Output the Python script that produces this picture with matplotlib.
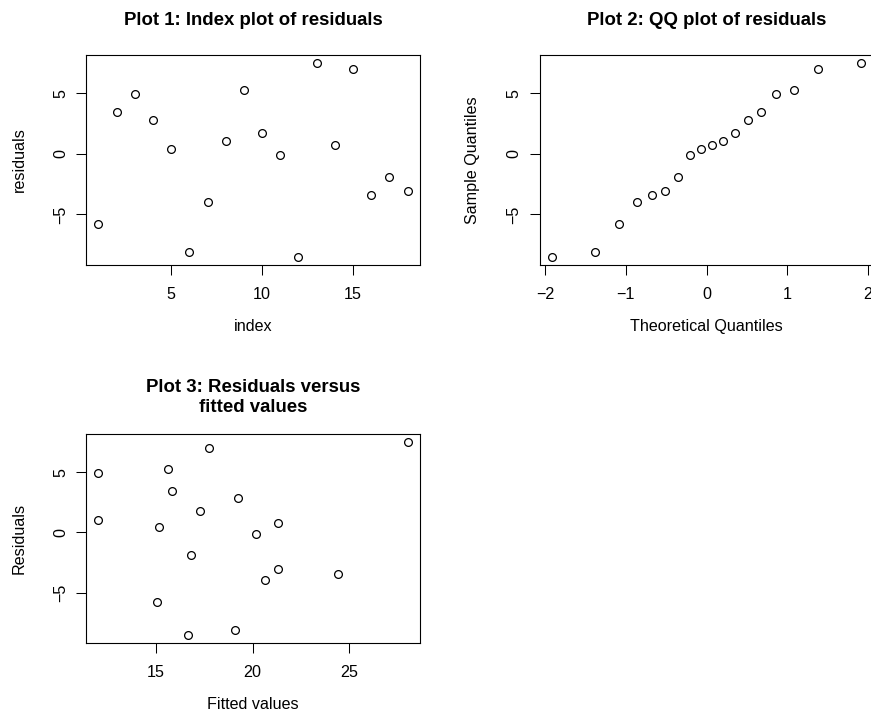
import matplotlib
matplotlib.use('Agg')
from matplotlib import pyplot as plt

plt.rcParams['font.family'] = ['Liberation Sans', 'DejaVu Sans']

# residuals, in index order
index = list(range(1, 19))
residuals = [-5.81, 3.44, 4.93, 2.81, 0.41, -8.13, -3.94, 1.02, 5.29,
             1.76, -0.11, -8.54, 7.52, 0.74, 6.97, -3.42, -1.90, -3.06]
fitted = [15.07, 15.85, 12.01, 19.26, 15.17, 19.08, 20.64, 12.01, 15.61,
          17.28, 20.19, 16.66, 28.03, 21.33, 17.72, 24.41, 16.80, 21.33]
# normal scores for 18 points, (i - 0.5)/n
theor_q = [-1.9145, -1.3830, -1.0853, -0.8616, -0.6745, -0.5085, -0.3550,
           -0.2104, -0.0697, 0.0697, 0.2104, 0.3550, 0.5085, 0.6745,
           0.8616, 1.0853, 1.3830, 1.9145]
sample_q = sorted(residuals)

W, H = 871, 716
fig = plt.figure(figsize=(W / 100, H / 100), dpi=100)

def px_axes(left, top, right, bottom):
    return fig.add_axes([left / W, 1 - bottom / H, (right - left) / W, (bottom - top) / H])

def r_style(ax, xlim, ylim, xticks, yticks, title, xlabel, ylabel, title_off=24.5):
    ax.set_xlim(xlim)
    ax.set_ylim(ylim)
    ax.set_xticks(xticks)
    ax.set_yticks(yticks)
    ax.set_xticklabels([str(t).replace('-', '\u2212') for t in xticks])
    ax.set_yticklabels([str(t).replace('-', '\u2212') for t in yticks])
    ax.tick_params(direction='out', length=7, width=0.75, labelsize=11.6, color='black')
    ax.tick_params(axis='x', pad=9)
    ax.tick_params(axis='y', pad=6)
    for lab in ax.get_yticklabels():
        lab.set_rotation(90)
        lab.set_va('center')
    for sp in ax.spines.values():
        sp.set_linewidth(0.8)
        sp.set_color('black')
    ax.annotate(title, xy=(0.5, 1), xycoords='axes fraction', xytext=(0, title_off),
                textcoords='offset points', ha='center', va='center',
                fontsize=13.4, fontweight='bold', linespacing=1.2)
    ax.annotate(xlabel, xy=(0.5, 0), xycoords='axes fraction', xytext=(0, -44.6),
                textcoords='offset points', ha='center', va='center', fontsize=11.6)
    ax.annotate(ylabel, xy=(0, 0.5), xycoords='axes fraction', xytext=(-48, 0),
                textcoords='offset points', ha='center', va='center', fontsize=11.6,
                rotation=90)

def pts(ax, x, y):
    ax.plot(x, y, linestyle='none', marker='o', markersize=5.6,
            markerfacecolor='none', markeredgecolor='black', markeredgewidth=0.9)

# Plot 1
ax1 = px_axes(86, 55, 420, 265)
pts(ax1, index, residuals)
r_style(ax1, (0.32, 18.68), (-9.18, 8.16), [5, 10, 15], [-5, 0, 5],
        'Plot 1: Index plot of residuals', 'index', 'residuals')

# Plot 2
ax2 = px_axes(539.5, 55, 873.5, 265)
pts(ax2, theor_q, sample_q)
r_style(ax2, (-2.068, 2.068), (-9.18, 8.16), [-2, -1, 0, 1, 2], [-5, 0, 5],
        'Plot 2: QQ plot of residuals', 'Theoretical Quantiles', 'Sample Quantiles')

# Plot 3
ax3 = px_axes(86, 434, 420, 643)
pts(ax3, fitted, residuals)
r_style(ax3, (11.37, 28.67), (-9.18, 8.16), [15, 20, 25], [-5, 0, 5],
        'Plot 3: Residuals versus\nfitted values', 'Fitted values', 'Residuals',
        title_off=26.2)

fig.savefig('out.png', dpi=100)
